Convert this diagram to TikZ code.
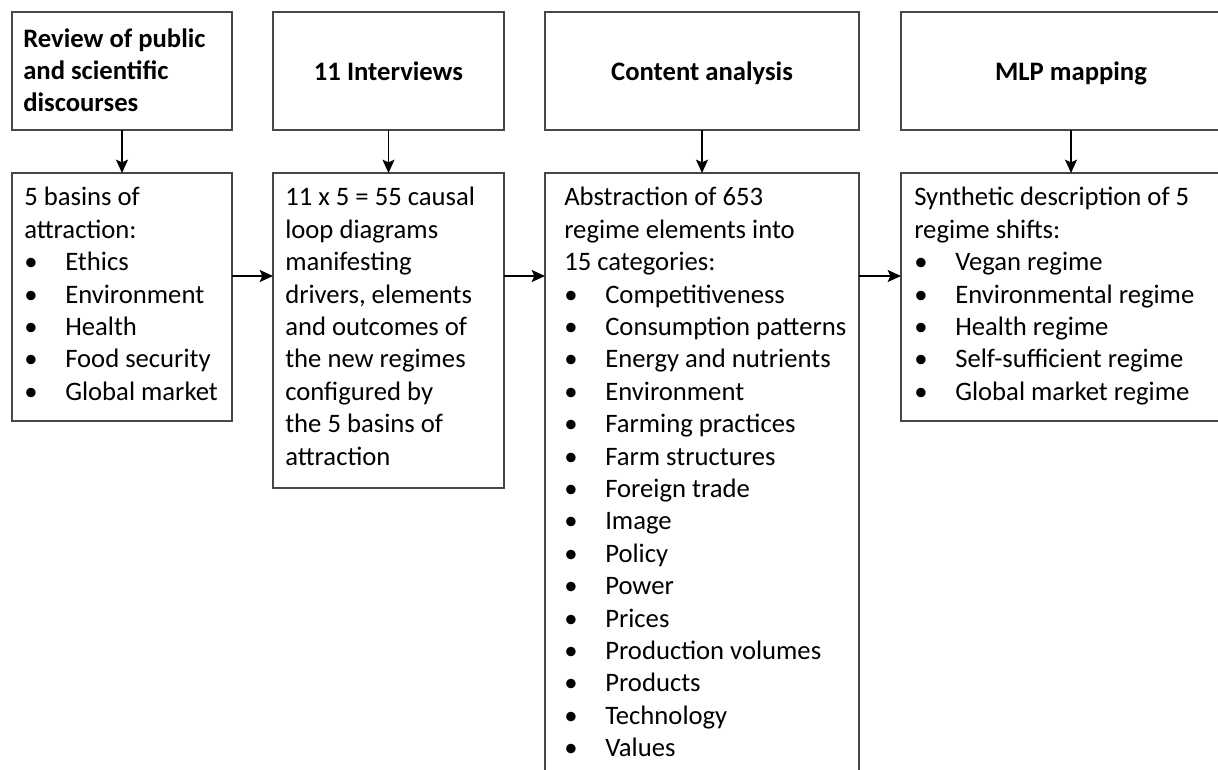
\documentclass[tikz,border=0pt]{standalone}
\usepackage{fontspec}
\setmainfont{Carlito}
\usetikzlibrary{arrows.meta}

% bullet item with a fixed tab to the item text
\newcommand\bitem[1]{\makebox[30.75pt][l]{•}#1}

\tikzset{
  box/.style={draw=black!72, line width=1pt, inner sep=0pt, outer sep=0pt,
              anchor=north west, fill=none},
  toptext/.style={inner sep=0pt, font=\fontsize{20}{24}\selectfont\bfseries},
  bodytext/.style={inner sep=0pt, anchor=north west, align=left,
                   font=\fontsize{20}{24.3}\selectfont},
  arr/.style={draw=black, line width=1pt,
              -{Stealth[length=10pt,width=9pt,inset=2pt]}}
}

\begin{document}
\begin{tikzpicture}[x=0.75pt, y=-0.75pt]
  \useasboundingbox (0,0) rectangle (1218,769);
  \clip (0,0) rectangle (1218,769);

  % upper row: the four steps
  \node[box, minimum width=165pt,    minimum height=88.5pt] (t1) at (12,12) {};
  \node[box, minimum width=173.25pt, minimum height=88.5pt] (t2) at (273,12) {};
  \node[box, minimum width=235.5pt,  minimum height=88.5pt] (t3) at (545,12) {};
  \node[box, minimum width=255pt,    minimum height=88.5pt] (t4) at (901,12) {};

  \node[toptext, anchor=north west, align=left] (l1) at (23,25.25)
    {\strut Review of public\\and scientific\\discourses};
  \node[toptext, anchor=base] (l2) at (t2.center |- 0,80) {11 Interviews};
  \node[toptext, anchor=base] (l3) at (t3.center |- 0,80) {Content analysis};
  \node[toptext, anchor=base] (l4) at (t4.center |- 0,80) {MLP mapping};

  % lower row: the results of each step
  \node[box, minimum width=165pt,    minimum height=186pt]    (bA) at (12,173) {};
  \node[box, minimum width=173.25pt, minimum height=236.25pt] (bB) at (273,173) {};
  \node[box, minimum width=235.5pt,  minimum height=465pt]    (bC) at (545,173) {};
  \node[box, minimum width=255pt,    minimum height=186pt]    (bD) at (901,173) {};

  \node[bodytext] (xA) at (24,183)
    {\strut 5 basins of\\attraction:\\
     \bitem{Ethics}\\\bitem{Environment}\\\bitem{Health}\\
     \bitem{Food security}\\\bitem{Global market}};

  \node[bodytext] (xB) at (285,183)
    {\strut 11 x 5 = 55 causal\\loop diagrams\\manifesting\\drivers, elements\\
     and outcomes of\\the new regimes\\configured by\\the 5 basins of\\attraction};

  \node[bodytext] (xC) at (564,183)
    {\strut Abstraction of 653\\regime elements into\\15 categories:\\
     \bitem{Competitiveness}\\\bitem{Consumption patterns}\\
     \bitem{Energy and nutrients}\\\bitem{Environment}\\
     \bitem{Farming practices}\\\bitem{Farm structures}\\
     \bitem{Foreign trade}\\\bitem{Image}\\\bitem{Policy}\\
     \bitem{Power}\\\bitem{Prices}\\\bitem{Production volumes}\\
     \bitem{Products}\\\bitem{Technology}\\\bitem{Values}};

  \node[bodytext] (xD) at (914,183)
    {\strut Synthetic description of 5\\regime shifts:\\
     \bitem{Vegan regime}\\\bitem{Environmental regime}\\
     \bitem{Health regime}\\\bitem{Self-sufficient regime}\\
     \bitem{Global market regime}};

  % connectors
  \draw[arr] (t1.south) -- (bA.north);
  \draw[arr] (t2.south) -- (bB.north);
  \draw[arr] (t3.south) -- (bC.north);
  \draw[arr] (t4.south) -- (bD.north);

  \coordinate (row) at (0,276);
  \draw[arr] (bA.east |- row) -- (bB.west |- row);
  \draw[arr] (bB.east |- row) -- (bC.west |- row);
  \draw[arr] (bC.east |- row) -- (bD.west |- row);
\end{tikzpicture}
\end{document}
